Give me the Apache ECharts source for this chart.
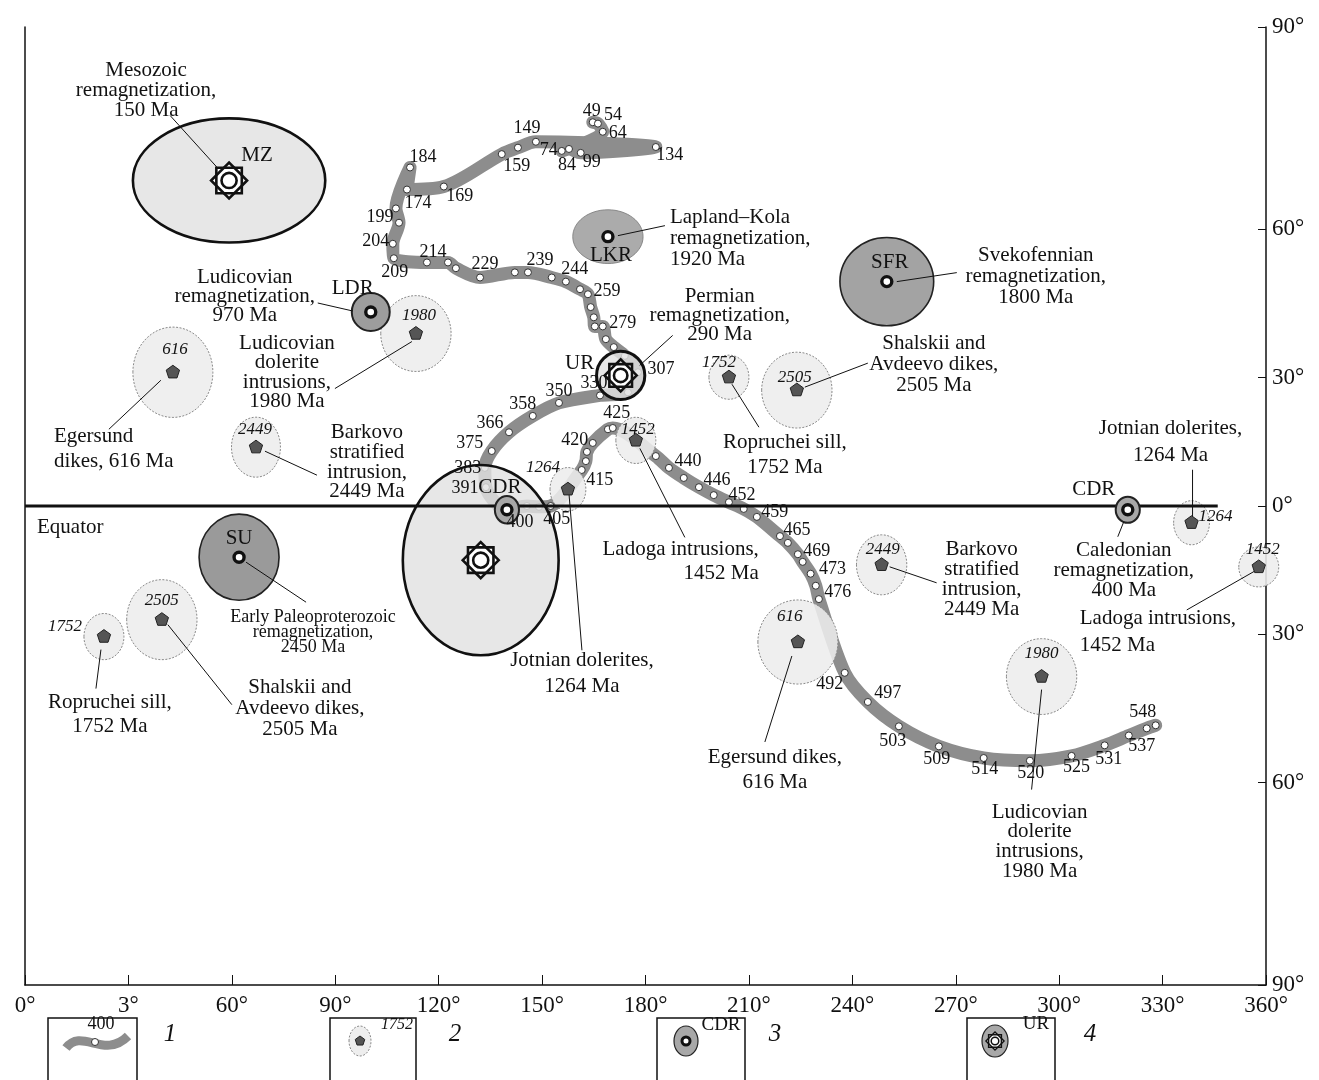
<!DOCTYPE html>
<html>
<head>
<meta charset="utf-8">
<title>Apparent polar wander path of Baltica</title>
<script src="https://cdn.jsdelivr.net/npm/echarts@6/dist/echarts.min.js"></script>
<style>
  html, body { margin: 0; padding: 0; background: #fff; }
  #chart { width: 1319px; height: 1080px; }
</style>
</head>
<body>
<div id="chart"></div>
<script>
// ---------- data: APWP track (longitude / latitude of poles, age in Ma) ----------
const trackLon = [164.7,166.2,167.6,155.7,157.8,161.2,183.0,148.2,143.0,138.3,121.5,110.8,111.7,107.6,108.5,106.7,107.0,116.6,122.7,125.0,132.0,142.1,145.9,152.8,156.9,161.0,163.3,164.1,165.0,165.3,167.6,168.5,170.8,174.0,177.8,174.9,166.8,154.9,147.3,140.4,135.4,133.4,133.7,139.8,145.6,149.1,152.5,161.5,162.7,163.0,164.7,169.1,170.5,183.0,186.8,191.1,195.5,199.8,204.2,208.5,212.3,219.0,221.3,224.2,225.6,227.9,229.4,230.3,237.8,244.5,253.5,265.1,278.1,291.5,303.6,313.2,320.2,325.4,328.0];
const trackLat = [77.4,77.2,76.0,73.1,73.4,72.8,73.7,74.5,73.6,72.6,67.4,66.9,70.5,63.7,61.2,57.4,54.7,53.9,53.9,52.8,51.0,52.0,52.0,51.0,50.2,48.7,47.7,45.1,43.0,41.1,41.1,38.4,36.7,34.8,31.2,26.7,26.0,24.3,21.3,17.5,13.1,9.1,4.5,-0.9,0.0,-0.2,0.0,8.6,10.7,12.9,15.0,18.2,18.5,11.9,9.1,6.7,4.5,2.6,0.9,-0.7,-2.6,-7.2,-8.8,-11.5,-13.3,-16.1,-18.9,-22.0,-38.4,-44.5,-49.4,-53.3,-55.5,-56.0,-55.1,-53.1,-51.2,-49.8,-49.2];
const trackAge = ['49','54','64','74','84','99','134','149','','159','169','174','184','','199','204','209','214','','','229','','239','','244','','259','','','','279','','','','307','','330','350','358','366','375','383','391','400','','','405','415','','','420','','425','','440','','446','','452','','459','465','','469','','473','476','','492','497','503','509','514','520','525','531','537','','548'];

// ---------- data: remagnetization poles ----------
const remagCode = ['LKR','SFR','LDR','CDR','CDR','SU'];
const remagLon = [169.1, 250.0, 100.3, 139.8, 319.9, 62.1];
const remagLat = [58.7, 50.2, 44.1, -0.9, -0.9, -12.2];
const remagA95Lon = [10.2, 13.6, 5.5, 3.5, 3.5, 11.6];
const remagA95Lat = [7.8, 12.8, 5.5, 4.0, 3.8, 12.5];
const remagCaption = [
  'Lapland\u2013Kola\nremagnetization,\n1920 Ma',
  'Svekofennian\nremagnetization,\n1800 Ma',
  'Ludicovian\nremagnetization,\n970 Ma',
  '',
  'Caledonian\nremagnetization,\n400 Ma',
  'Early Paleoproterozoic\nremagnetization,\n2450 Ma'
];

// ---------- data: reference poles (star symbols) ----------
const starCode = ['MZ','UR',''];
const starLon = [59.2, 172.8, 132.2];
const starLat = [68.4, 30.5, -12.9];
const starA95Lon = [27.9, 7.0, 22.6];
const starA95Lat = [18.0, 7.0, 27.6];
const starCaption = ['Mesozoic\nremagnetization,\n150 Ma', 'Permian\nremagnetization,\n290 Ma', ''];

// ---------- data: intrusion poles (pentagons, both polarities) ----------
const intrAge = ['1980','616','2449','1752','2505','1452','1264','2505','1752','2449','616','1980','1264','1452'];
const intrLon = [113.4, 42.9, 67.0, 204.2, 223.9, 177.2, 157.5, 39.7, 22.9, 248.5, 224.2, 294.9, 338.4, 357.9];
const intrLat = [39.6, 31.2, 14.0, 30.1, 27.2, 15.6, 4.0, -26.7, -30.5, -14.0, -31.7, -39.2, -4.0, -14.5];
const intrA95Lon = [10.2, 11.6, 7.1, 5.8, 10.2, 5.8, 5.2, 10.2, 5.8, 7.3, 11.6, 10.2, 5.2, 5.8];
const intrA95Lat = [11.0, 13.1, 8.7, 6.4, 11.0, 6.7, 6.3, 11.6, 6.7, 8.7, 12.2, 11.0, 6.4, 5.8];
const intrCaption = [
  'Ludicovian\ndolerite\nintrusions,\n1980 Ma',
  'Egersund\ndikes, 616 Ma',
  'Barkovo\nstratified\nintrusion,\n2449 Ma',
  'Ropruchei sill,\n1752 Ma',
  'Shalskii and\nAvdeevo dikes,\n2505 Ma',
  'Ladoga intrusions,\n1452 Ma',
  'Jotnian dolerites,\n1264 Ma',
  'Shalskii and\nAvdeevo dikes,\n2505 Ma',
  'Ropruchei sill,\n1752 Ma',
  'Barkovo\nstratified\nintrusion,\n2449 Ma',
  'Egersund dikes,\n616 Ma',
  'Ludicovian\ndolerite\nintrusions,\n1980 Ma',
  'Jotnian dolerites,\n1264 Ma',
  'Ladoga intrusions,\n1452 Ma'
];

// ---------- data: equator and axis labels ----------
const equatorLon = [0, 346];
const xTickLabels = ['0°','3°','60°','90°','120°','150°','180°','210°','240°','270°','300°','330°','360°'];
const yTickLat = [-90, -60, -30, 0, 30, 60, 90];
const yTickLabels = ['90°','60°','30°','0°','30°','60°','90°'];

// ---------- layout: label offsets in pixels ----------
const ageLabelOffset = {'49':[-1,-11],'54':[15,-8],'64':[15,2],'74':[-13,-1],'84':[-2,16],'99':[11,9],'134':[14,8],'149':[-9,-13],'159':[15,12],'169':[16,10],'174':[11,14],'184':[13,-10],'199':[-19,-5],'204':[-17,-2],'209':[1,14],'214':[6,-10],'229':[5,-13],'239':[12,-12],'244':[9,-12],'259':[19,-3],'279':[20,-3],'307':[23,-3],'330':[-6,-12],'350':[0,-12],'358':[-10,-12],'366':[-19,-9],'375':[-22,-8],'383':[-17,0],'391':[-21,1],'400':[13,13],'405':[6,13],'415':[18,10],'420':[-18,-3],'425':[4,-15],'440':[19,-7],'446':[18,-7],'452':[13,-7],'459':[18,-5],'465':[17,-6],'469':[19,-3],'473':[22,-4],'476':[22,7],'492':[-15,11],'497':[20,-9],'503':[-6,15],'509':[-2,13],'514':[1,11],'520':[1,13],'525':[5,11],'531':[4,14],'537':[13,11],'548':[-13,-13]};

const remagLayout = [
  {code:[3,19],  from:[10,-1], to:[57,-11], text:[62,2],   align:'left',   lh:21},
  {code:[3,-19], from:[10,0],  to:[70,-9],  text:[149,-5], align:'center', lh:21},
  {code:[-18,-24], from:[-18,-1], to:[-53,-9], text:[-126,-16], align:'center', lh:19},
  {code:[-7,-22]},
  {code:[-34,-20], from:[-4,12], to:[-10,27], text:[-4,61], align:'center', lh:20},
  {code:[0,-19], from:[7,5], to:[67,45], text:[74,75], align:'center', lh:15, size:18}
];
const starLayout = [
  {code:[28,-25], from:[-11,-12], to:[-59,-65], text:[-83,-90], align:'center', lh:20},
  {code:[-41,-12], from:[19,-10], to:[52,-40], text:[99,-60], align:'center', lh:19},
  {}
];
const intrLayout = [
  {age:[3,-18],   from:[-4,8],  to:[-81,55],  text:[-129,39], align:'center', lh:19.5},
  {age:[2,-23],   from:[-12,8], to:[-64,57],  text:[-119,77], align:'left',   lh:25},
  {age:[-1,-18],  from:[9,4],   to:[61,28],   text:[111,15],  align:'center', lh:19.7},
  {age:[-10,-15], from:[3,7],   to:[30,50],   text:[56,78],   align:'center', lh:25},
  {age:[-2,-13],  from:[8,-3],  to:[71,-27],  text:[137,-26], align:'center', lh:21},
  {age:[2,-11],   from:[4,8],   to:[49,97],   text:[123,121], align:'right',  lh:24},
  {age:[-25,-22], from:[1,4],   to:[14,161],  text:[14,184],  align:'center', lh:26},
  {age:[0,-19],   from:[6,5],   to:[70,85],   text:[138,89],  align:'center', lh:21},
  {age:[-39,-10], from:[-3,13], to:[-8,52],   text:[6,78],    align:'center', lh:24},
  {age:[1,-15],   from:[8,2],   to:[55,18],   text:[100,15],  align:'center', lh:20},
  {age:[-8,-25],  from:[-6,14], to:[-33,100], text:[-23,128], align:'center', lh:25},
  {age:[0,-23],   from:[0,13],  to:[-10,113], text:[-2,165],  align:'center', lh:19.7},
  {age:[24,-6],   from:[1,-5],  to:[1,-53],   text:[-21,-81], align:'center', lh:27},
  {age:[4,-17],   from:[-2,3],  to:[-72,43],  text:[-179,65], align:'left',   lh:27}
];

// ---------- styles ----------
const SERIF = '"Liberation Serif", "Times New Roman", "DejaVu Serif", serif';
const INK = '#111';
const remagFill = {LKR:'#ababab', SFR:'#a3a3a3', LDR:'#9d9d9d', CDR:'#a8a8a8', SU:'#9a9a9a'};
const remagEdge = {LKR:[0.8,'#777'], SFR:[1.6,'#222'], LDR:[2,'#222'], CDR:[2,'#222'], SU:[1.6,'#222']};

// stereographic-type latitude scale used by the map
const proj = lat => Math.tan(lat * Math.PI / 360);
const unproj = v => Math.atan(v) * 360 / Math.PI;

// ---------- pole tables ----------
const remagPoles = remagCode.map((code, i) => ({code, lon: remagLon[i], lat: remagLat[i], rLon: remagA95Lon[i], rLat: remagA95Lat[i], caption: remagCaption[i], lay: remagLayout[i]}));
const starPoles = starCode.map((code, i) => ({code, lon: starLon[i], lat: starLat[i], rLon: starA95Lon[i], rLat: starA95Lat[i], caption: starCaption[i], lay: starLayout[i]}));
const intrPoles = intrAge.map((age, i) => ({age, lon: intrLon[i], lat: intrLat[i], rLon: intrA95Lon[i], rLat: intrA95Lat[i], caption: intrCaption[i], lay: intrLayout[i]}));
const toXY = list => list.map(p => [p.lon, proj(p.lat)]);

// ---------- drawing helpers ----------
function starShape(cx, cy, R, lw) {
  const sq = rot => [0,1,2,3].map(k => {
    const a = (rot + 90 * k) * Math.PI / 180;
    return [cx + R * Math.cos(a), cy + R * Math.sin(a)];
  });
  const s1 = sq(0), s2 = sq(45);
  return [
    {type:'polygon', shape:{points:s1}, style:{fill:'#fff', stroke:'none'}},
    {type:'polygon', shape:{points:s2}, style:{fill:'#fff', stroke:'none'}},
    {type:'polygon', shape:{points:s1}, style:{fill:'none', stroke:INK, lineWidth:lw}},
    {type:'polygon', shape:{points:s2}, style:{fill:'none', stroke:INK, lineWidth:lw}},
    {type:'circle', shape:{cx, cy, r:R * 0.42}, style:{fill:'#fff', stroke:INK, lineWidth:lw}}
  ];
}
function pentagon(cx, cy, r) {
  const pts = [0,1,2,3,4].map(k => {
    const a = (-90 + 72 * k) * Math.PI / 180;
    return [cx + r * Math.cos(a), cy + r * Math.sin(a)];
  });
  return {type:'polygon', shape:{points:pts}, style:{fill:'#555', stroke:'#222', lineWidth:1}};
}
function bullseye(cx, cy, r, lw) {
  return {type:'circle', shape:{cx, cy, r}, style:{fill:'#fff', stroke:INK, lineWidth:lw}};
}
function txt(x, y, text, opt) {
  opt = opt || {};
  return {
    type:'text', x, y,
    style:{
      text, fill: INK,
      fontFamily: SERIF, fontSize: opt.size || 21, fontStyle: opt.italic ? 'italic' : 'normal',
      align: opt.align || 'center', verticalAlign: 'middle',
      textAlign: opt.align || 'center', textVerticalAlign: 'middle',
      lineHeight: opt.lh || 20
    }
  };
}
function ovalSeries(list, z, styleFn) {
  return {
    type:'custom', z, silent:true, animation:false,
    data: toXY(list),
    renderItem(params, api) {
      const p = list[params.dataIndex];
      const c = api.coord([api.value(0), api.value(1)]);
      const k = api.size([1, 0])[0];
      return {type:'ellipse', shape:{cx:c[0], cy:c[1], rx:p.rLon * k, ry:p.rLat * k}, style: styleFn(p)};
    }
  };
}
function leaderSeries(list) {
  return {
    type:'custom', z:6, silent:true, animation:false,
    data: toXY(list),
    renderItem(params, api) {
      const L = list[params.dataIndex].lay;
      if (!L || !L.from) return {type:'group', children:[]};
      const c = api.coord([api.value(0), api.value(1)]);
      return {type:'line', shape:{x1:c[0]+L.from[0], y1:c[1]+L.from[1], x2:c[0]+L.to[0], y2:c[1]+L.to[1]},
              style:{stroke:INK, lineWidth:1}};
    }
  };
}
function captionSeries(list) {
  return {
    type:'custom', z:9, silent:true, animation:false,
    data: toXY(list),
    renderItem(params, api) {
      const p = list[params.dataIndex];
      const L = p.lay || {};
      const c = api.coord([api.value(0), api.value(1)]);
      const kids = [];
      if (L.code && p.code) kids.push(txt(c[0]+L.code[0], c[1]+L.code[1], p.code));
      if (L.age && p.age) kids.push(txt(c[0]+L.age[0], c[1]+L.age[1], p.age, {italic:true, size:17}));
      if (L.text && p.caption) kids.push(txt(c[0]+L.text[0], c[1]+L.text[1], p.caption, {align:L.align, lh:L.lh, size:L.size}));
      return {type:'group', children:kids};
    }
  };
}

const trackData = trackLon.map((lon, i) => [lon, proj(trackLat[i])]);
const yTickVals = yTickLat.map(proj);

const option = {
  animation: false,
  backgroundColor: '#fff',
  grid: {left: 25, right: 53, top: 27, bottom: 95},
  xAxis: {
    type:'value', min:0, max:360, interval:30,
    axisLine:{onZero:false, lineStyle:{color:INK, width:1.5}},
    axisTick:{inside:true, length:10, lineStyle:{color:INK, width:1}},
    axisLabel:{color:INK, fontFamily:SERIF, fontSize:23, margin:9,
               formatter: v => xTickLabels[Math.round(v / 30)]},
    splitLine:{show:false}
  },
  yAxis: [
    {
      type:'value', position:'right', min:-1, max:1,
      axisLine:{show:true, onZero:false, lineStyle:{color:INK, width:1.5}},
      axisTick:{show:true, inside:true, length:8, customValues: yTickVals, lineStyle:{color:INK}},
      axisLabel:{show:true, customValues: yTickVals, color:INK, fontFamily:SERIF, fontSize:23, margin:6,
                 formatter: v => {
                   const lat = unproj(v);
                   let best = 0;
                   yTickLat.forEach((t, i) => { if (Math.abs(t - lat) < Math.abs(yTickLat[best] - lat)) best = i; });
                   return yTickLabels[best];
                 }},
      splitLine:{show:false}
    },
    {
      type:'value', position:'left', min:-1, max:1,
      axisLine:{show:true, onZero:false, lineStyle:{color:INK, width:1.5}},
      axisTick:{show:false}, axisLabel:{show:false}, splitLine:{show:false}
    }
  ],
  series: [
    // APWP band
    {
      type:'line', z:1, silent:true, smooth:0.3, symbol:'none', showSymbol:false,
      data: trackData,
      lineStyle:{color:'#8d8d8d', width:13, cap:'round', join:'round'}
    },
    // pole positions along the path
    {
      type:'scatter', z:2, silent:true, symbol:'circle', symbolSize:7,
      data: trackData,
      itemStyle:{color:'#fff', borderColor:'#333', borderWidth:1, opacity:1}
    },
    // confidence ovals of reference poles
    ovalSeries(starPoles, 3, p => ({fill:'rgba(226,226,226,0.82)', stroke:INK, lineWidth: p.code === 'UR' ? 3 : 2.6})),
    ovalSeries(intrPoles, 3, () => ({fill:'rgba(237,237,237,0.88)', stroke:'#8a8a8a', lineWidth:1, lineDash:[2, 1.5]})),
    // equator
    {
      type:'line', z:4, silent:true, symbol:'none',
      data: equatorLon.map(lon => [lon, 0]),
      lineStyle:{color:INK, width:3}
    },
    {
      type:'custom', z:9, silent:true,
      data: [[equatorLon[0], 0]],
      renderItem(params, api) {
        const c = api.coord([api.value(0), api.value(1)]);
        return txt(c[0] + 12, c[1] + 21, 'Equator', {align:'left'});
      }
    },
    // remagnetization ovals
    ovalSeries(remagPoles, 5, p => ({fill: remagFill[p.code], stroke: remagEdge[p.code][1], lineWidth: remagEdge[p.code][0]})),
    // leader lines
    leaderSeries(remagPoles), leaderSeries(starPoles), leaderSeries(intrPoles),
    // age labels along the path
    {
      type:'custom', z:7, silent:true,
      data: trackData,
      renderItem(params, api) {
        const age = trackAge[params.dataIndex];
        const o = ageLabelOffset[age];
        if (!age || !o) return {type:'group', children:[]};
        const c = api.coord([api.value(0), api.value(1)]);
        return txt(c[0] + o[0], c[1] + o[1], age, {size:18});
      }
    },
    // pole symbols
    {
      type:'custom', z:8, silent:true, data: toXY(remagPoles),
      renderItem(params, api) {
        const c = api.coord([api.value(0), api.value(1)]);
        return bullseye(c[0], c[1], 5, 3.4);
      }
    },
    {
      type:'custom', z:8, silent:true, data: toXY(starPoles),
      renderItem(params, api) {
        const p = starPoles[params.dataIndex];
        const c = api.coord([api.value(0), api.value(1)]);
        return {type:'group', children: starShape(c[0], c[1], p.code === 'UR' ? 16 : 18, 2.6)};
      }
    },
    {
      type:'custom', z:8, silent:true, data: toXY(intrPoles),
      renderItem(params, api) {
        const c = api.coord([api.value(0), api.value(1)]);
        return pentagon(c[0], c[1], 7);
      }
    },
    // captions
    captionSeries(remagPoles), captionSeries(starPoles), captionSeries(intrPoles)
  ],
  graphic: [
    // key 1: APWP
    {type:'rect', shape:{x:48, y:1018, width:89, height:80}, style:{fill:'none', stroke:INK, lineWidth:1.5}},
    {type:'bezierCurve', shape:{x1:66, y1:1048, cpx1:82, cpy1:1027, cpx2:104, cpy2:1060, x2:128, y2:1036}, style:{fill:'none', stroke:'#8d8d8d', lineWidth:9}},
    {type:'circle', shape:{cx:95, cy:1042, r:3.5}, style:{fill:'#fff', stroke:'#333', lineWidth:1}},
    txt(101, 1024, '400', {size:18}),
    txt(170, 1034, '1', {size:25, italic:true}),
    // key 2: intrusion pole
    {type:'rect', shape:{x:330, y:1018, width:86, height:80}, style:{fill:'none', stroke:INK, lineWidth:1.5}},
    {type:'ellipse', shape:{cx:360, cy:1041, rx:11, ry:15}, style:{fill:'#eee', stroke:'#8a8a8a', lineWidth:1, lineDash:[2,1.5]}},
    pentagon(360, 1041, 5),
    txt(397, 1025, '1752', {size:16, italic:true}),
    txt(455, 1034, '2', {size:25, italic:true}),
    // key 3: remagnetization pole
    {type:'rect', shape:{x:657, y:1018, width:88, height:80}, style:{fill:'none', stroke:INK, lineWidth:1.5}},
    {type:'ellipse', shape:{cx:686, cy:1041, rx:12, ry:15}, style:{fill:'#a8a8a8', stroke:'#222', lineWidth:1.2}},
    bullseye(686, 1041, 4, 3),
    txt(721, 1025, 'CDR', {size:19}),
    txt(775, 1034, '3', {size:25, italic:true}),
    // key 4: reference pole
    {type:'rect', shape:{x:967, y:1018, width:88, height:80}, style:{fill:'none', stroke:INK, lineWidth:1.5}},
    {type:'ellipse', shape:{cx:995, cy:1041, rx:13, ry:16}, style:{fill:'#a8a8a8', stroke:'#222', lineWidth:1.2}},
    {type:'group', children: starShape(995, 1041, 9, 1.5)},
    txt(1036, 1024, 'UR', {size:19}),
    txt(1090, 1034, '4', {size:25, italic:true})
  ]
};

const chart = echarts.init(document.getElementById('chart'), null, {renderer:'canvas'});
chart.setOption(option);
</script>
</body>
</html>
